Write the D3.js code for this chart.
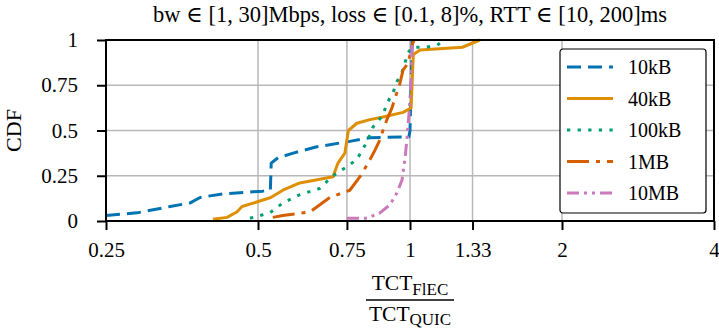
<!DOCTYPE html>
<html>
<head>
<meta charset="utf-8">
<script src="https://cdn.jsdelivr.net/npm/d3@7"></script>
<style>
  body { margin: 0; background: #fff; }
  svg, svg text { font-family: "Liberation Serif", "DejaVu Serif", serif; }
</style>
</head>
<body>
<script>
// series: [ratio, cdf]
const kb10 = [[0.25, 0.03], [0.288, 0.045], [0.335, 0.08], [0.367, 0.1], [0.384, 0.13], [0.426, 0.15],
  [0.511, 0.165], [0.529, 0.17], [0.531, 0.32], [0.548, 0.35], [0.587, 0.375], [0.654, 0.41],
  [0.76, 0.44], [0.833, 0.46], [0.995, 0.465], [1.0, 0.5], [1.01, 1.0]]
const kb40 = [[0.407, 0.01], [0.434, 0.02], [0.454, 0.05], [0.465, 0.08], [0.497, 0.105], [0.53, 0.13],
  [0.56, 0.17], [0.605, 0.21], [0.704, 0.245], [0.72, 0.32], [0.743, 0.375], [0.755, 0.5],
  [0.785, 0.54], [0.833, 0.56], [0.884, 0.575], [0.969, 0.6], [1.005, 0.625], [1.015, 0.92],
  [1.047, 0.945], [1.27, 0.96], [1.375, 1.0]]
const kb100 = [[0.482, 0.015], [0.528, 0.045], [0.56, 0.1], [0.605, 0.145], [0.663, 0.18], [0.7, 0.245],
  [0.75, 0.3], [0.785, 0.34], [0.815, 0.42], [0.833, 0.475], [0.845, 0.52], [0.884, 0.585],
  [0.9, 0.65], [0.926, 0.71], [0.942, 0.77], [0.964, 0.82], [0.991, 0.93], [1.01, 0.96],
  [1.07, 0.96], [1.13, 0.97], [1.17, 1.0]]
const mb1 = [[0.535, 0.02], [0.56, 0.03], [0.634, 0.05], [0.694, 0.13], [0.76, 0.17], [0.796, 0.245],
  [0.826, 0.32], [0.852, 0.39], [0.872, 0.45], [0.884, 0.5], [0.9, 0.56], [0.921, 0.625],
  [0.942, 0.71], [0.955, 0.76], [0.969, 0.835], [0.991, 0.87], [1.012, 0.98], [1.018, 1.0]]
const mb10 = [[0.75, 0.015], [0.822, 0.015], [0.872, 0.045], [0.913, 0.09], [0.942, 0.155], [0.964, 0.225],
  [0.978, 0.35], [0.987, 0.465], [0.996, 0.6], [1.005, 0.78], [1.01, 1.0]]

const names = ['10kB', '40kB', '100kB', '1MB', '10MB']
const colors = ['#0173b2', '#de8f05', '#029e73', '#d55e00', '#cc78bc']
const dashes = ['14,7', null, '3.3,7.3', '22,7,4,7', '12,5,3,5,3,5']
const seriesData = [kb10, kb40, kb100, mb1, mb10]

const xTicks = [0.25, 0.5, 0.75, 1, 1.33, 2, 4]
const xTickLabels = ['0.25', '0.5', '0.75', '1', '1.33', '2', '4']
const yTicks = [0, 0.25, 0.5, 0.75, 1]
const yTickLabels = ['0', '0.25', '0.5', '0.75', '1']

const width = 719
const height = 333
const margin = { left: 106, right: 5, top: 40, bottom: 112 }
const font = '"Liberation Serif", "DejaVu Serif", serif'

const svg = d3.select('body').append('svg').attr('width', width).attr('height', height)

const x = d3.scaleLog().base(2).domain([0.25, 4]).range([margin.left, width - margin.right])
const y = d3.scaleLinear().domain([0, 1]).range([height - margin.bottom, margin.top])

// grid
svg.append('g')
  .selectAll('line')
  .data(xTicks.slice(1, -1))
  .enter()
  .append('line')
  .attr('x1', (d) => x(d)).attr('x2', (d) => x(d))
  .attr('y1', y(0)).attr('y2', y(1))
  .attr('stroke', '#b8b8b8').attr('stroke-width', 1.5)
svg.append('g')
  .selectAll('line')
  .data(yTicks.slice(1, -1))
  .enter()
  .append('line')
  .attr('x1', x(0.25)).attr('x2', x(4))
  .attr('y1', (d) => y(d)).attr('y2', (d) => y(d))
  .attr('stroke', '#b8b8b8').attr('stroke-width', 1.5)

// curves
const line = d3.line().x((d) => x(d[0])).y((d) => y(d[1]))
const plot = svg.append('g')
seriesData.forEach((s, i) => {
  plot.append('path')
    .attr('d', line(s))
    .attr('fill', 'none')
    .attr('stroke', colors[i])
    .attr('stroke-width', 3)
    .attr('stroke-linejoin', 'round')
    .attr('stroke-dasharray', dashes[i])
})

// axes
const xAxis = svg.append('g')
  .attr('transform', `translate(0,${y(0)})`)
  .call(d3.axisBottom(x).tickValues(xTicks).tickFormat((d, i) => xTickLabels[i]).tickSize(9).tickSizeOuter(0).tickPadding(12))
const yAxis = svg.append('g')
  .attr('transform', `translate(${x(0.25)},0)`)
  .call(d3.axisLeft(y).tickValues(yTicks).tickFormat((d, i) => yTickLabels[i]).tickSize(9).tickSizeOuter(0).tickPadding(19))
;[xAxis, yAxis].forEach((a) => {
  a.attr('font-family', null).attr('font-size', 21)
  a.select('.domain').remove()
  a.selectAll('line').attr('stroke', '#000').attr('stroke-width', 2)
  a.selectAll('text').style('font-family', font).attr('fill', '#000')
})

// frame
svg.append('rect')
  .attr('x', x(0.25)).attr('y', y(1))
  .attr('width', x(4) - x(0.25)).attr('height', y(0) - y(1))
  .attr('fill', 'none').attr('stroke', '#000').attr('stroke-width', 2)

// title
svg.append('text')
  .attr('x', (x(0.25) + x(4)) / 2).attr('y', 22)
  .attr('text-anchor', 'middle').attr('font-size', 22.5)
  .text('bw ∈ [1, 30]Mbps, loss ∈ [0.1, 8]%, RTT ∈ [10, 200]ms')

// y label
svg.append('text')
  .attr('transform', `translate(21,${(y(0) + y(1)) / 2}) rotate(-90)`)
  .attr('text-anchor', 'middle').attr('font-size', 22)
  .text('CDF')

// x label (fraction)
const cx = (x(0.25) + x(4)) / 2
const num = svg.append('text').attr('x', cx).attr('y', 290).attr('text-anchor', 'middle').attr('font-size', 21.5)
num.append('tspan').text('TCT')
num.append('tspan').attr('font-size', 17).attr('dy', 5).text('FlEC')
svg.append('line')
  .attr('x1', cx - 44).attr('x2', cx + 44)
  .attr('y1', 300).attr('y2', 300)
  .attr('stroke', '#000').attr('stroke-width', 1.5)
const den = svg.append('text').attr('x', cx).attr('y', 321).attr('text-anchor', 'middle').attr('font-size', 21.5)
den.append('tspan').text('TCT')
den.append('tspan').attr('font-size', 17).attr('dy', 4).text('QUIC')

// legend
const lg = svg.append('g').attr('transform', 'translate(560,49)')
lg.append('rect')
  .attr('width', 146).attr('height', 164).attr('rx', 3)
  .attr('fill', '#fff').attr('stroke', '#000').attr('stroke-width', 1.2)
const items = lg.selectAll('g.item')
  .data(names)
  .enter()
  .append('g')
  .attr('transform', (d, i) => `translate(0,${18 + i * 31.5})`)
items.append('line')
  .attr('x1', 7).attr('x2', 53)
  .attr('stroke', (d, i) => colors[i]).attr('stroke-width', 3)
  .attr('stroke-dasharray', (d, i) => dashes[i])
items.append('text')
  .attr('x', 68).attr('dy', '0.35em').attr('font-size', 20)
  .text((d) => d)
</script>
</body>
</html>
